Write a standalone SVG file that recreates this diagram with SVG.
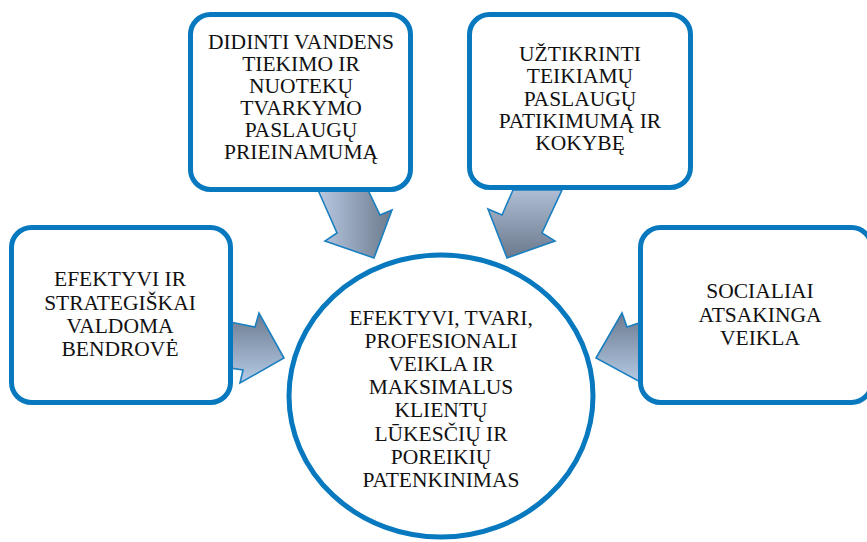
<svg xmlns="http://www.w3.org/2000/svg" width="867" height="542" viewBox="0 0 867 542">
<defs>
<linearGradient id="gH" x1="0" y1="0" x2="1" y2="0">
<stop offset="0" stop-color="#b9c9e2"/><stop offset="1" stop-color="#6b7a8c"/>
</linearGradient>
<linearGradient id="gDown" x1="0" y1="0" x2="0" y2="1">
<stop offset="0" stop-color="#aebdd3"/><stop offset="1" stop-color="#6a798c"/>
</linearGradient>
<linearGradient id="gUp" x1="0" y1="0" x2="0" y2="1">
<stop offset="0" stop-color="#6b7b8f"/><stop offset="1" stop-color="#b6cbe6"/>
</linearGradient>
<style>
.box{fill:#ffffff;stroke:#0879be;stroke-width:5}
.arrow{stroke:#1a7fc0;stroke-width:1.6;stroke-linejoin:miter}
text{font-family:'Liberation Serif','Times New Roman',serif;font-size:21.5px;fill:#111111;text-anchor:middle}
</style>
</defs>
<g id="connectors">
<polygon class="arrow" fill="url(#gH)" points="318,190 337,233 325,241 374,258 392,210 380,215 368,190"/>
<polygon class="arrow" fill="url(#gDown)" points="513,190 502,215 488,209 507,258 555,241 542,233 562,190"/>
<polygon class="arrow" fill="url(#gUp)" points="230,322 255,327 259,313 284,358 240,383 243,370 230,368"/>
<polygon class="arrow" fill="url(#gUp)" points="642,322 627,327 622,313 596,358 642,383 642,370"/>
</g>
<g id="node-top-left" font-family="Liberation Serif, serif">
<rect class="box" x="190.5" y="14.5" width="220" height="175" rx="20"/>
<text x="301" y="49">DIDINTI VANDENS</text>
<text x="301" y="71">TIEKIMO IR</text>
<text x="301" y="93">NUOTEKŲ</text>
<text x="301" y="115">TVARKYMO</text>
<text x="301" y="137">PASLAUGŲ</text>
<text x="301" y="159">PRIEINAMUMĄ</text>
</g>
<g id="node-top-right" font-family="Liberation Serif, serif">
<rect class="box" x="469.5" y="14.5" width="221" height="173" rx="20"/>
<text x="580" y="61">UŽTIKRINTI</text>
<text x="580" y="83">TEIKIAMŲ</text>
<text x="580" y="106">PASLAUGŲ</text>
<text x="580" y="128">PATIKIMUMĄ IR</text>
<text x="580" y="150">KOKYBĘ</text>
</g>
<g id="node-left" font-family="Liberation Serif, serif">
<rect class="box" x="11.5" y="227.5" width="219" height="175" rx="20"/>
<text x="120" y="286">EFEKTYVI IR</text>
<text x="120" y="310">STRATEGIŠKAI</text>
<text x="120" y="333">VALDOMA</text>
<text x="120" y="356">BENDROVĖ</text>
</g>
<g id="node-right" font-family="Liberation Serif, serif">
<rect class="box" x="640.5" y="227.5" width="231" height="175" rx="20"/>
<text x="760" y="298">SOCIALIAI</text>
<text x="760" y="322">ATSAKINGA</text>
<text x="760" y="345">VEIKLA</text>
</g>
<g id="node-center" font-family="Liberation Serif, serif">
<ellipse class="box" cx="441" cy="396" rx="152" ry="141"/>
<text x="441" y="325">EFEKTYVI, TVARI,</text>
<text x="441" y="348">PROFESIONALI</text>
<text x="441" y="371">VEIKLA IR</text>
<text x="441" y="394">MAKSIMALUS</text>
<text x="441" y="417">KLIENTŲ</text>
<text x="441" y="441">LŪKESČIŲ IR</text>
<text x="441" y="464">POREIKIŲ</text>
<text x="441" y="487">PATENKINIMAS</text>
</g>
</svg>
